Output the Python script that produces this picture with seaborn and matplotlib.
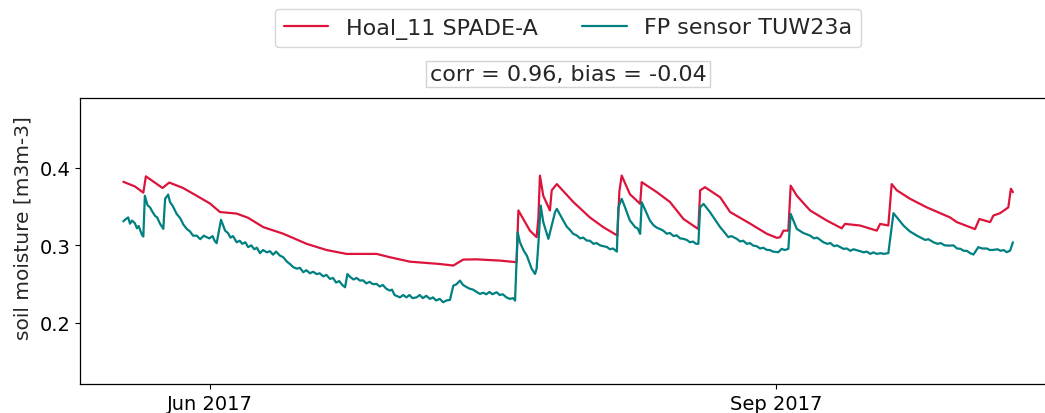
import pandas as pd
import numpy as np
import matplotlib
matplotlib.use("Agg")
import matplotlib.pyplot as plt
import matplotlib.dates as mdates
import seaborn as sns

# ---- data ----
hoal_times = [
    "2017-05-17 22:00", "2017-05-19 19:00", "2017-05-21 04:00", "2017-05-21 14:00",
    "2017-05-24 07:00", "2017-05-25 09:00", "2017-05-27 15:00", "2017-05-29 20:00",
    "2017-06-01 00:00", "2017-06-02 15:00", "2017-06-05 08:00", "2017-06-07 05:00",
    "2017-06-09 16:00", "2017-06-12 22:00", "2017-06-16 17:00", "2017-06-19 23:00",
    "2017-06-23 05:00", "2017-06-28 02:00", "2017-06-30 06:00", "2017-07-03 12:00",
    "2017-07-08 09:00", "2017-07-10 13:00", "2017-07-12 04:00", "2017-07-14 08:00",
    "2017-07-18 03:00", "2017-07-20 20:00", "2017-07-21 03:00", "2017-07-23 00:00",
    "2017-07-24 02:00", "2017-07-24 09:00", "2017-07-24 15:00", "2017-07-25 04:00",
    "2017-07-26 06:00", "2017-07-26 13:00", "2017-07-27 09:00", "2017-07-30 01:00",
    "2017-08-01 18:00", "2017-08-03 22:00", "2017-08-06 05:00", "2017-08-06 13:00",
    "2017-08-06 22:00", "2017-08-08 06:00", "2017-08-09 22:00", "2017-08-10 04:00",
    "2017-08-12 15:00", "2017-08-14 18:00", "2017-08-16 23:00", "2017-08-19 09:00",
    "2017-08-19 16:00", "2017-08-20 11:00", "2017-08-22 22:00", "2017-08-24 13:00",
    "2017-08-27 19:00", "2017-08-30 12:00", "2017-09-01 03:00", "2017-09-01 16:00",
    "2017-09-02 05:00", "2017-09-03 00:00", "2017-09-03 09:00", "2017-09-04 09:00",
    "2017-09-06 13:00", "2017-09-09 06:00", "2017-09-11 16:00", "2017-09-12 05:00",
    "2017-09-14 16:00", "2017-09-17 09:00", "2017-09-17 22:00", "2017-09-19 06:00",
    "2017-09-19 19:00", "2017-09-20 15:00", "2017-09-22 19:00", "2017-09-25 12:00",
    "2017-09-29 07:00", "2017-09-30 09:00", "2017-10-03 08:00", "2017-10-04 01:00",
    "2017-10-05 19:00", "2017-10-06 08:00", "2017-10-07 10:00", "2017-10-08 18:00",
    "2017-10-09 04:00", "2017-10-09 12:00",
]
hoal_values = [
    0.382, 0.376, 0.368, 0.389,
    0.374, 0.381, 0.374, 0.364,
    0.354, 0.343, 0.341, 0.3355,
    0.3235, 0.315, 0.302, 0.294,
    0.289, 0.289, 0.2847, 0.279,
    0.276, 0.274, 0.2817, 0.282,
    0.2804, 0.2783, 0.345, 0.319,
    0.3106, 0.335, 0.390, 0.364,
    0.345, 0.371, 0.379, 0.356,
    0.336, 0.3235, 0.3127, 0.370,
    0.390, 0.366, 0.3535, 0.3815,
    0.3686, 0.356, 0.334, 0.321,
    0.371, 0.375, 0.362, 0.343,
    0.328, 0.315, 0.3097, 0.3106,
    0.319, 0.319, 0.377, 0.364,
    0.345, 0.332, 0.322, 0.3277,
    0.3256, 0.319, 0.3277, 0.3256,
    0.379, 0.371, 0.360, 0.349,
    0.336, 0.330, 0.321, 0.334,
    0.330, 0.3385, 0.3415, 0.349,
    0.373, 0.3686,
]

fp_times = [
    "2017-05-17 22:00", "2017-05-18 08:00", "2017-05-18 17:00", "2017-05-19 00:00",
    "2017-05-19 08:00", "2017-05-19 19:00", "2017-05-20 03:00", "2017-05-20 10:00",
    "2017-05-20 22:00", "2017-05-21 04:00", "2017-05-21 10:00", "2017-05-21 20:00",
    "2017-05-22 06:00", "2017-05-22 16:00", "2017-05-23 02:00", "2017-05-23 10:00",
    "2017-05-23 21:00", "2017-05-24 10:00", "2017-05-24 17:00", "2017-05-25 05:00",
    "2017-05-25 12:00", "2017-05-26 00:00", "2017-05-26 14:00", "2017-05-27 04:00",
    "2017-05-27 16:00", "2017-05-28 05:00", "2017-05-28 18:00", "2017-05-29 06:00",
    "2017-05-29 20:00", "2017-05-30 10:00", "2017-05-31 00:00", "2017-05-31 11:00",
    "2017-05-31 22:00", "2017-06-01 10:00", "2017-06-01 18:00", "2017-06-02 02:00",
    "2017-06-02 19:00", "2017-06-03 11:00", "2017-06-03 22:00", "2017-06-04 08:00",
    "2017-06-04 18:00", "2017-06-05 08:00", "2017-06-05 20:00", "2017-06-06 06:00",
    "2017-06-06 18:00", "2017-06-07 05:00", "2017-06-07 17:00", "2017-06-08 05:00",
    "2017-06-08 15:00", "2017-06-09 03:00", "2017-06-09 15:00", "2017-06-10 06:00",
    "2017-06-10 18:00", "2017-06-11 06:00", "2017-06-11 18:00", "2017-06-12 08:00",
    "2017-06-12 22:00", "2017-06-13 12:00", "2017-06-14 00:00", "2017-06-14 13:00",
    "2017-06-15 03:00", "2017-06-15 15:00", "2017-06-16 04:00", "2017-06-16 16:00",
    "2017-06-17 06:00", "2017-06-17 18:00", "2017-06-18 08:00", "2017-06-18 20:00",
    "2017-06-19 10:00", "2017-06-19 22:00", "2017-06-20 12:00", "2017-06-21 00:00",
    "2017-06-21 12:00", "2017-06-22 00:00", "2017-06-22 12:00", "2017-06-22 23:00",
    "2017-06-23 08:00", "2017-06-23 20:00", "2017-06-24 08:00", "2017-06-24 20:00",
    "2017-06-25 09:00", "2017-06-25 21:00", "2017-06-26 10:00", "2017-06-26 22:00",
    "2017-06-27 12:00", "2017-06-28 02:00", "2017-06-28 14:00", "2017-06-29 02:00",
    "2017-06-29 16:00", "2017-06-30 06:00", "2017-06-30 14:00", "2017-07-01 00:00",
    "2017-07-01 21:00", "2017-07-02 10:00", "2017-07-02 22:00", "2017-07-03 10:00",
    "2017-07-03 22:00", "2017-07-04 14:00", "2017-07-05 02:00", "2017-07-05 14:00",
    "2017-07-06 04:00", "2017-07-06 18:00", "2017-07-07 06:00", "2017-07-07 18:00",
    "2017-07-08 08:00", "2017-07-08 22:00", "2017-07-09 10:00", "2017-07-10 00:00",
    "2017-07-10 13:00", "2017-07-11 02:00", "2017-07-11 15:00", "2017-07-12 03:00",
    "2017-07-12 18:00", "2017-07-13 06:00", "2017-07-13 18:00", "2017-07-14 08:00",
    "2017-07-14 21:00", "2017-07-15 10:00", "2017-07-15 22:00", "2017-07-16 10:00",
    "2017-07-16 22:00", "2017-07-17 14:00", "2017-07-18 02:00", "2017-07-18 14:00",
    "2017-07-19 04:00", "2017-07-19 18:00", "2017-07-20 06:00", "2017-07-20 14:00",
    "2017-07-21 00:00", "2017-07-21 09:00", "2017-07-22 00:00", "2017-07-22 12:00",
    "2017-07-23 07:00", "2017-07-23 20:00", "2017-07-24 02:00", "2017-07-24 09:00",
    "2017-07-24 18:00", "2017-07-25 04:00", "2017-07-26 00:00", "2017-07-26 13:00",
    "2017-07-27 02:00", "2017-07-27 09:00", "2017-07-28 10:00", "2017-07-29 00:00",
    "2017-07-29 12:00", "2017-07-30 01:00", "2017-07-30 14:00", "2017-07-31 04:00",
    "2017-07-31 16:00", "2017-08-01 06:00", "2017-08-01 18:00", "2017-08-02 08:00",
    "2017-08-02 20:00", "2017-08-03 10:00", "2017-08-03 22:00", "2017-08-04 12:00",
    "2017-08-05 00:00", "2017-08-05 12:00", "2017-08-06 03:00", "2017-08-06 09:00",
    "2017-08-06 22:00", "2017-08-07 11:00", "2017-08-08 06:00", "2017-08-08 16:00",
    "2017-08-09 02:00", "2017-08-09 12:00", "2017-08-09 22:00", "2017-08-10 04:00",
    "2017-08-11 12:00", "2017-08-12 02:00", "2017-08-12 14:00", "2017-08-13 04:00",
    "2017-08-13 16:00", "2017-08-14 06:00", "2017-08-14 18:00", "2017-08-15 08:00",
    "2017-08-15 20:00", "2017-08-16 10:00", "2017-08-16 23:00", "2017-08-17 12:00",
    "2017-08-18 00:00", "2017-08-18 12:00", "2017-08-19 00:00", "2017-08-19 09:00",
    "2017-08-19 16:00", "2017-08-20 05:00", "2017-08-21 06:00", "2017-08-22 22:00",
    "2017-08-23 12:00", "2017-08-24 06:00", "2017-08-24 18:00", "2017-08-25 15:00",
    "2017-08-26 04:00", "2017-08-26 16:00", "2017-08-27 06:00", "2017-08-27 18:00",
    "2017-08-28 07:00", "2017-08-28 20:00", "2017-08-29 10:00", "2017-08-29 22:00",
    "2017-08-30 12:00", "2017-08-31 00:00", "2017-08-31 12:00", "2017-09-01 09:00",
    "2017-09-01 22:00", "2017-09-02 10:00", "2017-09-03 00:00", "2017-09-03 09:00",
    "2017-09-04 09:00", "2017-09-05 10:00", "2017-09-06 13:00", "2017-09-07 04:00",
    "2017-09-07 16:00", "2017-09-08 17:00", "2017-09-09 08:00", "2017-09-09 20:00",
    "2017-09-10 10:00", "2017-09-10 22:00", "2017-09-11 23:00", "2017-09-12 12:00",
    "2017-09-13 02:00", "2017-09-13 14:00", "2017-09-14 16:00", "2017-09-15 06:00",
    "2017-09-15 18:00", "2017-09-16 08:00", "2017-09-16 20:00", "2017-09-17 09:00",
    "2017-09-18 00:00", "2017-09-18 12:00", "2017-09-19 06:00", "2017-09-20 02:00",
    "2017-09-21 17:00", "2017-09-22 18:00", "2017-09-23 21:00", "2017-09-24 12:00",
    "2017-09-25 06:00", "2017-09-25 18:00", "2017-09-26 14:00", "2017-09-27 06:00",
    "2017-09-27 18:00", "2017-09-28 10:00", "2017-09-29 07:00", "2017-09-29 20:00",
    "2017-09-30 10:00", "2017-10-01 00:00", "2017-10-01 12:00", "2017-10-02 00:00",
    "2017-10-02 13:00", "2017-10-03 02:00", "2017-10-03 21:00", "2017-10-04 12:00",
    "2017-10-05 06:00", "2017-10-05 18:00", "2017-10-06 08:00", "2017-10-07 00:00",
    "2017-10-07 12:00", "2017-10-08 00:00", "2017-10-08 12:00", "2017-10-09 01:00",
    "2017-10-09 12:00",
]
fp_values = [
    0.331, 0.334, 0.336, 0.328,
    0.332, 0.3286, 0.322, 0.325,
    0.314, 0.3114, 0.364, 0.352,
    0.349, 0.343, 0.338, 0.336,
    0.328, 0.3213, 0.360, 0.3655,
    0.356, 0.350, 0.3406, 0.335,
    0.327, 0.3213, 0.318, 0.3125,
    0.3126, 0.308, 0.3125, 0.3106,
    0.309, 0.312, 0.306, 0.3028,
    0.333, 0.319, 0.316, 0.310,
    0.312, 0.304, 0.306, 0.302,
    0.304, 0.2977, 0.300, 0.295,
    0.297, 0.290, 0.294, 0.291,
    0.2925, 0.288, 0.292, 0.287,
    0.2847, 0.279, 0.276, 0.2719,
    0.270, 0.271, 0.2654, 0.268,
    0.264, 0.266, 0.263, 0.264,
    0.260, 0.262, 0.2568, 0.258,
    0.252, 0.254, 0.249, 0.246,
    0.263, 0.259, 0.256, 0.258,
    0.2546, 0.255, 0.251, 0.253,
    0.250, 0.2503, 0.247, 0.249,
    0.244, 0.2417, 0.243, 0.236,
    0.233, 0.236, 0.233, 0.236,
    0.232, 0.233, 0.236, 0.232,
    0.235, 0.231, 0.233, 0.229,
    0.231, 0.2267, 0.229, 0.2297,
    0.248, 0.250, 0.2546, 0.249,
    0.246, 0.244, 0.243, 0.240,
    0.2374, 0.239, 0.237, 0.240,
    0.237, 0.2396, 0.236, 0.237,
    0.233, 0.231, 0.232, 0.2288,
    0.317, 0.304, 0.293, 0.2868,
    0.2697, 0.2632, 0.2697, 0.302,
    0.3514, 0.330, 0.3084, 0.3256,
    0.3428, 0.3471, 0.332, 0.324,
    0.320, 0.3148, 0.313, 0.309,
    0.310, 0.3062, 0.306, 0.302,
    0.303, 0.300, 0.299, 0.298,
    0.295, 0.296, 0.292, 0.349,
    0.360, 0.349, 0.332, 0.328,
    0.3235, 0.322, 0.3148, 0.3557,
    0.332, 0.326, 0.323, 0.321,
    0.319, 0.315, 0.316, 0.312,
    0.313, 0.309, 0.3084, 0.307,
    0.304, 0.305, 0.302, 0.302,
    0.349, 0.3535, 0.343, 0.3235,
    0.318, 0.3106, 0.312, 0.3084,
    0.305, 0.306, 0.302, 0.303,
    0.2997, 0.299, 0.296, 0.297,
    0.2942, 0.294, 0.292, 0.2912,
    0.2955, 0.294, 0.2955, 0.3406,
    0.3213, 0.316, 0.3126, 0.309,
    0.310, 0.304, 0.302, 0.303,
    0.299, 0.300, 0.2955, 0.296,
    0.293, 0.295, 0.2925, 0.291,
    0.292, 0.289, 0.291, 0.289,
    0.290, 0.289, 0.290, 0.3415,
    0.3256, 0.318, 0.3126, 0.310,
    0.307, 0.308, 0.304, 0.302,
    0.303, 0.300, 0.2997, 0.300,
    0.296, 0.2955, 0.293, 0.293,
    0.290, 0.2882, 0.2977, 0.296,
    0.296, 0.294, 0.2942, 0.295,
    0.293, 0.294, 0.2912, 0.2933,
    0.304,
]

series_labels = ["Hoal_11 SPADE-A", "FP sensor TUW23a"]
series_colors = ["crimson", "teal"]
stats_text = "corr = 0.96, bias = -0.04"
y_label = "soil moisture [m3m-3]"
y_ticks = [0.2, 0.3, 0.4]

df_hoal = pd.DataFrame({"time": pd.to_datetime(hoal_times), "sm": hoal_values})
df_fp = pd.DataFrame({"time": pd.to_datetime(fp_times), "sm": fp_values})

sns.set_style("ticks")
plt.rcParams["font.family"] = ["DejaVu Sans"]

W, H = 1045, 414
fig = plt.figure(figsize=(W / 100, H / 100), dpi=100)
ax = fig.add_axes([80 / W, (H - 385) / H, (1056 - 80) / W, (385 - 99) / H])

sns.lineplot(data=df_hoal, x="time", y="sm", ax=ax, color=series_colors[0],
             label=series_labels[0], linewidth=1.6)
sns.lineplot(data=df_fp, x="time", y="sm", ax=ax, color=series_colors[1],
             label=series_labels[1], linewidth=1.6)

ax.set_xlim(pd.Timestamp("2017-05-10 21:00"), pd.Timestamp("2017-10-16 12:00"))
ax.set_ylim(0.1213, 0.49)
ax.set_yticks(y_ticks)
ax.xaxis.set_major_locator(mdates.MonthLocator(bymonth=[3, 6, 9, 12]))
ax.xaxis.set_major_formatter(mdates.DateFormatter("%b %Y"))
ax.tick_params(labelsize=14, colors="black")
ax.set_xlabel("")
ax.set_ylabel(y_label, fontsize=14.5)
ax.yaxis.set_label_coords(-0.049, 0.55)
for s in ax.spines.values():
    s.set_color("black")
    s.set_linewidth(0.9)

ax.legend_.remove()
handles, labels = ax.get_legend_handles_labels()
fig.legend(handles, labels, loc="center", ncol=2, fontsize=16,
           bbox_to_anchor=(568 / W, 1 - 29 / H), frameon=True,
           columnspacing=2.0)

fig.text(568 / W, 1 - 75 / H, stats_text, ha="center", va="center", fontsize=16,
         bbox=dict(facecolor="white", edgecolor="lightgrey", boxstyle="square,pad=0.15"))

fig.savefig("out.png", dpi=100)
